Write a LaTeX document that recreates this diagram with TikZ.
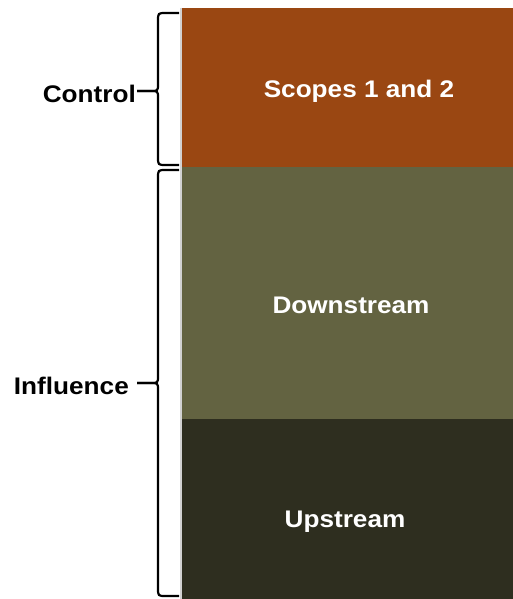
\documentclass[tikz,border=0pt]{standalone}
\usepackage{fontspec}
\setmainfont{Liberation Sans}
\newfontfamily\labfont[FakeStretch=1.09]{Liberation Sans}
\definecolor{cScope}{RGB}{154,71,18}
\definecolor{cDown}{RGB}{99,99,65}
\definecolor{cUp}{RGB}{46,46,31}
\tikzset{
  band/.style={anchor=north west, inner sep=0pt, outer sep=0pt, minimum width=332pt},
  bandtext/.style={text=white, font=\labfont\bfseries\fontsize{24}{28}\selectfont, inner sep=0pt},
  sidetext/.style={text=black, font=\labfont\bfseries\fontsize{24}{28}\selectfont, inner sep=0pt, anchor=east},
  bracestyle/.style={draw=black, line width=2.2pt}
}
\begin{document}
\begin{tikzpicture}[x=1pt,y=-1pt]
\useasboundingbox (0,0) rectangle (513,599);
% bands
\node[band, fill=cScope, minimum height=159pt] (scopes) at (181,8) {};
\node[band, fill=cDown, minimum height=252pt] (down) at (181,167) {};
\node[band, fill=cUp, minimum height=180pt] (up) at (181,419) {};
\draw[gray!35, line width=1.5pt] (scopes.north west) -- (up.south west);
% texts
\node[bandtext] (tscopes) at (359,91.5) {Scopes 1 and 2};
\node[bandtext] (tdown) at (351,305.5) {Downstream};
\node[bandtext] (tup) at (345,521.5) {Upstream};
\node[sidetext] (tcontrol) at (136,94) {Control};
\node[sidetext] (tinfl) at (129,385.5) {Influence};
% braces
\coordinate (c1) at (179,13);
\coordinate (c2) at (179,165);
\coordinate (ctip) at (137,91);
\draw[bracestyle] (c1) -- (166,13) .. controls (158,13) .. (158,21) -- (158,84)
  .. controls (158,91) .. (150,91) -- (ctip);
\draw[bracestyle] (c2) -- (166,165) .. controls (158,165) .. (158,157) -- (158,98)
  .. controls (158,91) .. (150,91) -- (ctip);
\coordinate (i1) at (179,170);
\coordinate (i2) at (179,596);
\coordinate (itip) at (137,383);
\draw[bracestyle] (i1) -- (166,170) .. controls (158,170) .. (158,178) -- (158,376)
  .. controls (158,383) .. (150,383) -- (itip);
\draw[bracestyle] (i2) -- (166,596) .. controls (158,596) .. (158,588) -- (158,390)
  .. controls (158,383) .. (150,383) -- (itip);
\end{tikzpicture}
\end{document}
